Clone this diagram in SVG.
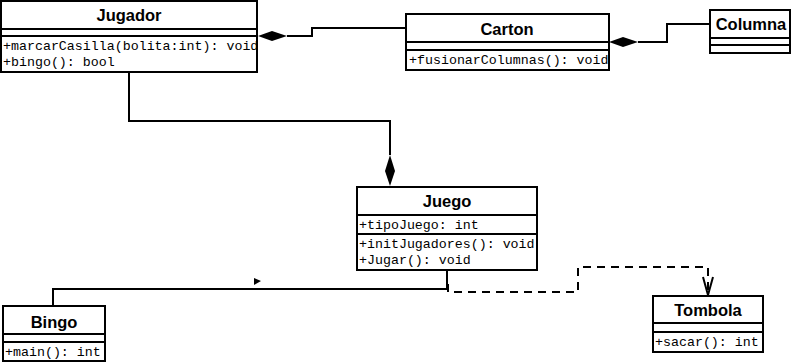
<svg xmlns="http://www.w3.org/2000/svg" width="792" height="363" viewBox="0 0 792 363">
  <style>
    .box { fill: #ffffff; stroke: #000000; stroke-width: 2; }
    .sep { stroke: #000000; stroke-width: 2; }
    .title { font-family: "Liberation Sans", Arial, sans-serif; font-weight: bold; font-size: 16.5px; text-anchor: middle; fill: #000; }
    .member { font-family: "Liberation Mono", "Courier New", monospace; font-size: 13.3px; fill: #000; }
    .edge { fill: none; stroke: #000000; stroke-width: 2; }
    .dash { fill: none; stroke: #000000; stroke-width: 2; stroke-dasharray: 8 6; }
  </style>
  <defs>
    <clipPath id="clipJugador"><rect x="1" y="1" width="256" height="71"/></clipPath>
    <clipPath id="clipCarton"><rect x="406" y="14" width="203" height="56"/></clipPath>
    <clipPath id="clipJuego"><rect x="357" y="187" width="180" height="83"/></clipPath>
  </defs>

  <!-- connectors -->
  <g id="connectors">
    <!-- Jugador ◆— Carton -->
    <polyline class="edge" points="287,36 312,36 312,28 406,28"/>
    <polygon points="258,36 272,31 287,36 272,41" fill="#000"/>
    <!-- Carton ◆— Columna -->
    <polyline class="edge" points="638,42 667,42 667,24 710,24"/>
    <polygon points="609,42 623,37 638,42 623,47" fill="#000"/>
    <!-- Jugador —◆ Juego -->
    <polyline class="edge" points="129,72 129,121 390,121 390,155"/>
    <polygon points="390,155 395,171 390,186 385,171" fill="#000"/>
    <!-- Bingo — Juego association -->
    <polyline class="edge" points="53,306 53,289 447,289 447,270"/>
    <polygon points="254,278 261,281 254,285" fill="#000"/>
    <!-- Juego - - > Tombola dependency -->
    <polyline class="dash" points="448,284 448,292 578,292 578,267 708,267 708,295"/>
    <polyline class="edge" points="703,277 708,295 713,277"/>
  </g>

  <!-- Jugador -->
  <g id="jugador">
    <rect class="box" x="1" y="1" width="256" height="71"/>
    <line class="sep" x1="1" y1="29" x2="257" y2="29"/>
    <line class="sep" x1="1" y1="36" x2="257" y2="36"/>
    <text class="title" x="129" y="21">Jugador</text>
    <g clip-path="url(#clipJugador)">
      <text class="member" x="3" y="50">+marcarCasilla(bolita:int): void</text>
      <text class="member" x="3" y="66">+bingo(): bool</text>
    </g>
  </g>

  <!-- Carton -->
  <g id="carton">
    <rect class="box" x="406" y="14" width="203" height="56"/>
    <line class="sep" x1="406" y1="42" x2="609" y2="42"/>
    <line class="sep" x1="406" y1="50" x2="609" y2="50"/>
    <text class="title" x="507" y="35">Carton</text>
    <g clip-path="url(#clipCarton)">
      <text class="member" x="409" y="64">+fusionarColumnas(): void</text>
    </g>
  </g>

  <!-- Columna -->
  <g id="columna">
    <rect class="box" x="710" y="10" width="80" height="43"/>
    <line class="sep" x1="710" y1="38" x2="790" y2="38"/>
    <line class="sep" x1="710" y1="45" x2="790" y2="45"/>
    <text class="title" x="751" y="30">Columna</text>
  </g>

  <!-- Juego -->
  <g id="juego">
    <rect class="box" x="357" y="187" width="180" height="83"/>
    <line class="sep" x1="357" y1="215" x2="537" y2="215"/>
    <line class="sep" x1="357" y1="234" x2="537" y2="234"/>
    <text class="title" x="447" y="207">Juego</text>
    <g clip-path="url(#clipJuego)">
      <text class="member" x="359" y="229">+tipoJuego: int</text>
      <text class="member" x="359" y="248">+initJugadores(): void</text>
      <text class="member" x="359" y="264">+Jugar(): void</text>
    </g>
  </g>

  <!-- Bingo -->
  <g id="bingo">
    <rect class="box" x="3" y="306" width="102" height="55"/>
    <line class="sep" x1="3" y1="334" x2="105" y2="334"/>
    <line class="sep" x1="3" y1="342" x2="105" y2="342"/>
    <text class="title" x="54" y="328">Bingo</text>
    <text class="member" x="5" y="356">+main(): int</text>
  </g>

  <!-- Tombola -->
  <g id="tombola">
    <rect class="box" x="653" y="296" width="110" height="56"/>
    <line class="sep" x1="653" y1="323" x2="763" y2="323"/>
    <line class="sep" x1="653" y1="332" x2="763" y2="332"/>
    <text class="title" x="708" y="316">Tombola</text>
    <text class="member" x="655" y="346">+sacar(): int</text>
  </g>
</svg>
